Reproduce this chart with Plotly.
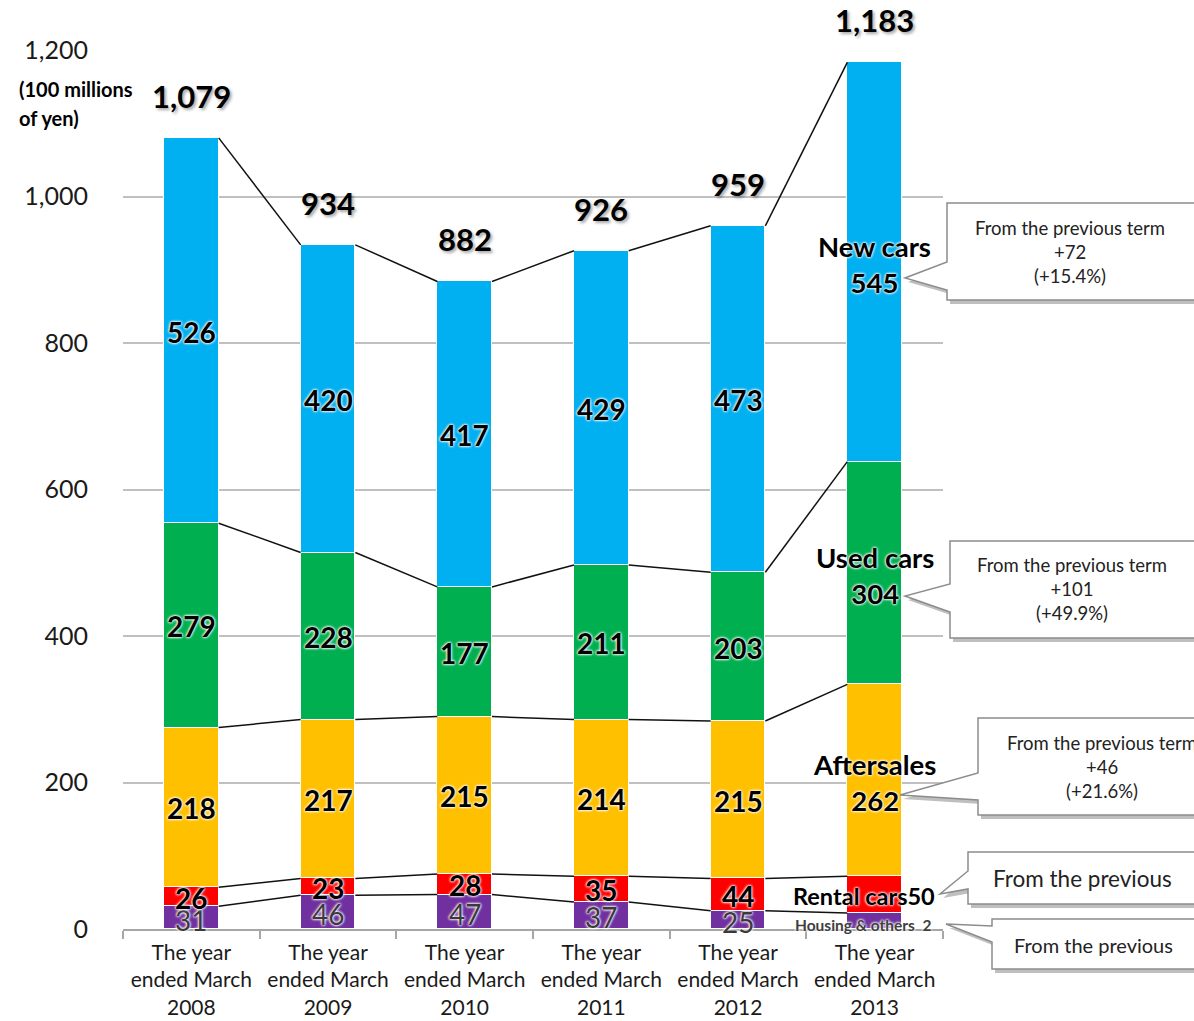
import plotly.graph_objects as go

# ---------------- data ----------------
years = ["2008", "2009", "2010", "2011", "2012", "2013"]
tick_labels = ["The year<br>ended March<br>" + y for y in years]
housing = [31, 46, 47, 37, 25, 22]
rental = [26, 23, 28, 35, 44, 50]
aftersales = [218, 217, 215, 214, 215, 262]
used_cars = [279, 228, 177, 211, 203, 304]
new_cars = [526, 420, 417, 429, 473, 545]
total_labels = ["1,079", "934", "882", "926", "959", "1,183"]

series = [
    ("Housing & others", housing, "#7030a0"),
    ("Rental cars", rental, "#ff0000"),
    ("Aftersales", aftersales, "#ffc000"),
    ("Used cars", used_cars, "#00b050"),
    ("New cars", new_cars, "#00b0f0"),
]
last_labels = ["Housing & others  2", "Rental cars50", "Aftersales<br>262",
               "Used cars<br>304", "New cars<br>545"]
callouts = [
    "From the previous term<br>+72<br>(+15.4%)",
    "From the previous term<br>+101<br>(+49.9%)",
    "From the previous term<br>+46<br>(+21.6%)",
    "From the previous",
    "From the previous",
]

W, H = 1194, 1021
L, R, T, B = 123, 943, 50, 929
FONT = "Lato, 'Open Sans', sans-serif"
BW = 0.4
xs = list(range(len(years)))


def px(x):
    return (x - L) / (R - L)


def py(y):
    return (B - y) / (B - T)


fig = go.Figure()

# stacked bars
for name, vals, col in series:
    fig.add_trace(go.Bar(x=xs, y=vals, name=name, marker=dict(color=col, line=dict(color="white", width=1)),
                         width=BW, showlegend=False, hoverinfo="y"))

# cumulative levels
cums = []
run = [0] * len(years)
for name, vals, col in series:
    run = [a + b for a, b in zip(run, vals)]
    cums.append(list(run))

# connector lines
for level in cums:
    lx, ly = [], []
    for i in range(len(years) - 1):
        lx += [i + BW / 2, i + 1 - BW / 2, None]
        ly += [level[i], level[i + 1], None]
    fig.add_trace(go.Scatter(x=lx, y=ly, mode="lines", line=dict(color="#111", width=1.5),
                             showlegend=False, hoverinfo="skip"))

ann = []
glow = "0px 0px 3px white, 0px 0px 3px white, 0px 0px 2px white"
# segment labels
base = [0] * len(years)
for si, (name, vals, col) in enumerate(series):
    for i, v in enumerate(vals):
        ymid = base[i] + v / 2
        if i == len(years) - 1:
            if si == 0:
                ann.append(dict(x=i, y=ymid, text="<b>" + last_labels[si] + "</b>", showarrow=False,
                                xshift=-12, yshift=-4,
                                font=dict(family=FONT, size=15.5, color="#404040", shadow=glow)))
            elif si == 1:
                ann.append(dict(x=i, y=ymid, text="<b>" + last_labels[si] + "</b>", showarrow=False,
                                xshift=-11, yshift=-1,
                                font=dict(family=FONT, size=23.5, color="black", shadow=glow)))
            else:
                ann.append(dict(x=i, y=ymid, text="<b>" + last_labels[si] + "</b>", showarrow=False,
                                yshift=-2,
                                font=dict(family=FONT, size=27.5, color="black", shadow=glow)))
        else:
            if si == 0:
                ann.append(dict(x=i, y=ymid, text=str(v), showarrow=False, yshift=-2,
                                font=dict(family=FONT, size=28, color="#3a3a3a", shadow=glow)))
            else:
                ann.append(dict(x=i, y=ymid, text="<b>" + str(v) + "</b>", showarrow=False, yshift=-1,
                                font=dict(family=FONT, size=28, color="black", shadow=glow)))
    base = [a + b for a, b in zip(base, vals)]

# total labels
for i, t in enumerate(total_labels):
    ann.append(dict(x=i, y=cums[-1][i], text="<b>" + t + "</b>", showarrow=False, yshift=42,
                    font=dict(family=FONT, size=31, color="black", shadow="2px 2px 3px rgba(0,0,0,0.35)")))

# unit label (two lines)
for txt, yy in (("(100 millions", 89), ("of yen)", 118)):
    ann.append(dict(xref="paper", yref="paper", x=px(17), y=py(yy), xanchor="left", yanchor="middle",
                    text="<b>" + txt + "</b>", showarrow=False, align="left",
                    font=dict(family=FONT, size=20, color="black")))

# callouts (box, tail, text)
boxes = [
    dict(x0=947, y0=203, x1=1215, y1=300, tb=(262, 290), tip=(905, 278), tx=1070, ty=252, size=18.5, anchor="center"),
    dict(x0=950, y0=541, x1=1215, y1=638, tb=(584, 612), tip=(905, 596), tx=1072, ty=589, size=18.5, anchor="center"),
    dict(x0=978, y0=718, x1=1215, y1=815, tb=(773, 800), tip=(900, 795), tx=1102, ty=767, size=18.5, anchor="center"),
    dict(x0=968, y0=852, x1=1215, y1=904, tb=(871, 889), tip=(940, 894), tx=991, ty=878, size=22.5, anchor="left"),
    dict(x0=992, y0=919, x1=1215, y1=969, tb=(926, 942), tip=(946, 924), tx=1012, ty=945, size=20, anchor="left"),
]
shapes = []
for bx, text in zip(boxes, callouts):
    def path(dx=0, dy=0):
        pts = [(bx["x0"], bx["y0"]), (bx["x1"], bx["y0"]), (bx["x1"], bx["y1"]), (bx["x0"], bx["y1"]),
               (bx["x0"], bx["tb"][1]), bx["tip"], (bx["x0"], bx["tb"][0])]
        s = "M " + " L ".join(f"{px(x + dx):.5f},{py(y + dy):.5f}" for x, y in pts) + " Z"
        return s
    shapes.append(dict(type="path", xref="paper", yref="paper", path=path(3, 4),
                       fillcolor="rgba(0,0,0,0.25)", line=dict(width=0), layer="above"))
    shapes.append(dict(type="path", xref="paper", yref="paper", path=path(),
                       fillcolor="white", line=dict(color="#8c8c8c", width=1.5), layer="above"))
    ann.append(dict(xref="paper", yref="paper", x=px(bx["tx"]), y=py(bx["ty"]), xanchor=bx["anchor"],
                    yanchor="middle", text=text, showarrow=False, align="center",
                    font=dict(family=FONT, size=bx["size"], color="#222")))

fig.update_layout(
    width=W, height=H,
    margin=dict(l=L, r=W - R, t=T, b=H - B, pad=0, autoexpand=False),
    paper_bgcolor="white", plot_bgcolor="white",
    barmode="stack", bargap=0,
    annotations=ann, shapes=shapes,
    xaxis=dict(range=[-0.5, len(years) - 0.5], tickvals=xs, ticktext=tick_labels, ticks="",
               showgrid=False, zeroline=False, showline=True, linecolor="#a6a6a6", linewidth=1.5,
               tickfont=dict(family=FONT, size=21, color="#1a1a1a"), ticklabelstandoff=4,
               minor=dict(tickvals=[i - 0.5 for i in range(len(years) + 1)], ticks="outside",
                          ticklen=8, tickcolor="#a6a6a6", tickwidth=1.5, showgrid=False),
               automargin=False, fixedrange=True),
    yaxis=dict(range=[0, 1200], tickvals=list(range(0, 1201, 200)), tickformat=",",
               showgrid=True, gridcolor="#c0c0c0", gridwidth=2, zeroline=False, showline=False,
               ticks="", ticklabelstandoff=34, automargin=False,
               tickfont=dict(family=FONT, size=25, color="#1a1a1a"), fixedrange=True),
    font=dict(family=FONT),
)

fig.write_html("out.html")
